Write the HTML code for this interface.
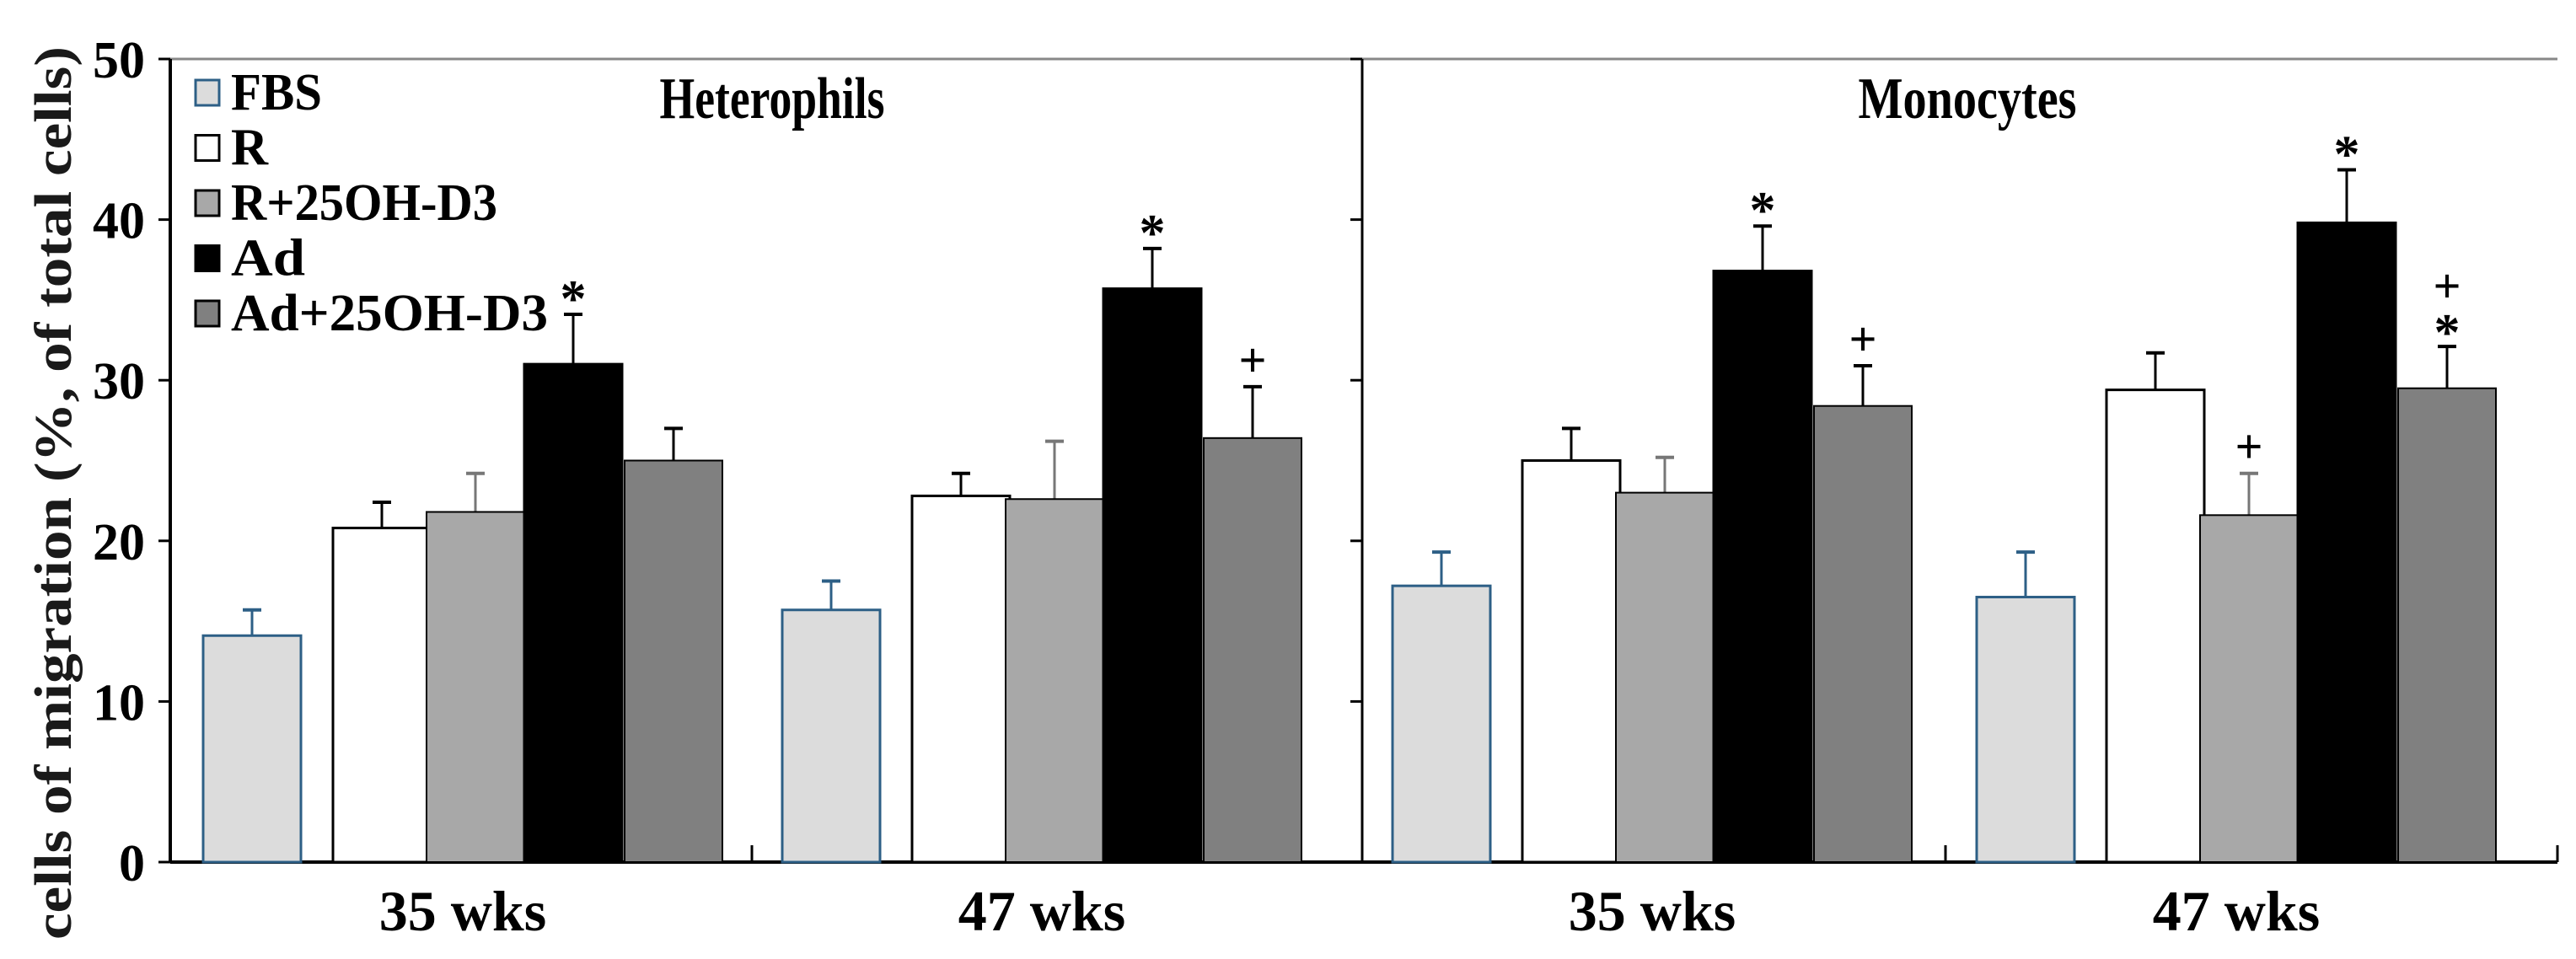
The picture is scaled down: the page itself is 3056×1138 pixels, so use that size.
<!DOCTYPE html>
<html><head><meta charset="utf-8"><style>
body{margin:0;background:#fff;}
svg{display:block;font-family:"Liberation Serif",serif;font-weight:bold;}
</style></head><body>
<svg id="chart" width="3056" height="1138" viewBox="0 0 3056 1138" xmlns="http://www.w3.org/2000/svg"></svg>
<script>
const series = ["FBS","R","R+25OH-D3","Ad","Ad+25OH-D3"];
const panels = ["Heterophils","Monocytes"];
const ages = ["35 wks","47 wks"];
const het35 = [14.1,20.8,21.8,31.0,25.0];
const het35Err = [1.6,1.6,2.4,3.1,2.0];
const het47 = [15.7,22.8,22.6,35.7,26.4];
const het47Err = [1.8,1.4,3.6,2.5,3.2];
const mon35 = [17.2,25.0,23.0,36.8,28.4];
const mon35Err = [2.1,2.0,2.2,2.8,2.5];
const mon47 = [16.5,29.4,21.6,39.8,29.5];
const mon47Err = [2.8,2.3,2.6,3.3,2.6];
const het35Marks = ["","","","*",""];
const het47Marks = ["","","","*","+"];
const mon35Marks = ["","","","*","+"];
const mon47Marks = ["","","+","*","+*"];
const yTicks = [0,10,20,30,40,50];

const groups=[[het35,het35Err,het35Marks],[het47,het47Err,het47Marks],[mon35,mon35Err,mon35Marks],[mon47,mon47Err,mon47Marks]];
const fills=["#dcdcdc","#ffffff","#a8a8a8","#000000","#808080"];
const strokes=["#2d5f86","#000","#000","#000","#000"];
const NS="http://www.w3.org/2000/svg";
const svg=document.getElementById('chart');
const X0=202,X1=3034,Y0=1023,Y1=70,XMID=1616;
function y(v){return Y0-(v/50)*(Y0-Y1);}
function groupX(g){const p=Math.floor(g/2);return (p===0?241:1652)+(g%2)*(p===0?687:693);}
const offs=[0,154,265,381,500], bw=116;
function barX(g,i){return groupX(g)+offs[i];}
function el(t,a,txt){const e=document.createElementNS(NS,t);for(const k in a)e.setAttribute(k,a[k]);if(txt!==undefined)e.textContent=txt;svg.appendChild(e);return e;}

let e;
e=el('line',{x1:X0,y1:Y1,x2:X1,y2:Y1,stroke:'#888','stroke-width':3});

e=el('line',{x1:X0,y1:Y1,x2:X0,y2:Y0,stroke:'#000','stroke-width':4});

e=el('line',{x1:XMID,y1:Y1,x2:XMID,y2:Y0,stroke:'#000','stroke-width':3});

e=el('line',{x1:X0,y1:Y0,x2:X1,y2:Y0,stroke:'#000','stroke-width':4});

e=el('line',{x1:X1,y1:Y0,x2:X1,y2:Y0-20,stroke:'#000','stroke-width':3});

[892,2308].forEach(function(x){
 e=el('line',{x1:x,y1:Y0,x2:x,y2:Y0-20,stroke:'#000','stroke-width':3});
 
});
yTicks.forEach(function(t){
 e=el('line',{x1:X0-14,y1:y(t),x2:X0,y2:y(t),stroke:'#000','stroke-width':3});
 
 e=el('line',{x1:XMID-14,y1:y(t),x2:XMID,y2:y(t),stroke:'#000','stroke-width':3});
 
 e=el('text',{x:X0-30,y:y(t)+22,'font-size':62,'text-anchor':'end',fill:'#000'},String(t));
 
});
e=el('text',{x:0,y:0,'font-size':62,'text-anchor':'middle',fill:'#1a1a1a',textLength:1060,lengthAdjust:'spacingAndGlyphs',transform:'translate(84,585) rotate(-90)'},'cells of migration (%, of total cells)');


groups.forEach(function(gr,g){
 const vals=gr[0],errs=gr[1],marks=gr[2];
 vals.forEach(function(v,i){
  const x=barX(g,i),top=y(v),et=y(v+errs[i]),cx=x+bw/2;
  const ec=i===0?strokes[0]:(i===2?'#777':'#000');
  e=el('line',{x1:cx,y1:top,x2:cx,y2:et,stroke:ec,'stroke-width':3});
  
  e=el('line',{x1:cx-11,y1:et,x2:cx+11,y2:et,stroke:ec,'stroke-width':4});
  
  e=el('rect',{x:x,y:top,width:bw,height:Y0-top,fill:fills[i],stroke:strokes[i],'stroke-width':i===2||i===4?2:3});
  
  const m=marks[i];
  if(m){
   if(m==='+*'){
    e=el('text',{x:cx,y:et-52,'font-size':58,'text-anchor':'middle',fill:'#000'},'+');
    
    e=el('text',{x:cx,y:et+4,'font-size':62,'text-anchor':'middle',fill:'#000'},'*');
    
   } else {
    e=el('text',{x:cx,y:m==='*'?et+2:et-12,'font-size':m==='*'?62:58,'text-anchor':'middle',fill:'#000'},m);
    
   }
  }
 });
 e=el('text',{x:groupX(g)+308,y:1104,'font-size':68,'text-anchor':'middle',fill:'#000'},ages[g%2]);
 
});
e=el('text',{x:916,y:140,'font-size':70,'text-anchor':'middle',fill:'#000',textLength:267,lengthAdjust:'spacingAndGlyphs'},panels[0]);

e=el('text',{x:2334,y:140,'font-size':70,'text-anchor':'middle',fill:'#000',textLength:259,lengthAdjust:'spacingAndGlyphs'},panels[1]);


const legendW=[108,44,316,88,376];
series.forEach(function(s,i){
 const cy=110+i*65.5;
 e=el('rect',{x:232,y:cy-15,width:28,height:30,fill:fills[i],stroke:strokes[i],'stroke-width':3});
 
 e=el('text',{x:274,y:cy+20,'font-size':62,fill:'#000',textLength:legendW[i],lengthAdjust:'spacingAndGlyphs'},s);
 
});
</script>
</body></html>
